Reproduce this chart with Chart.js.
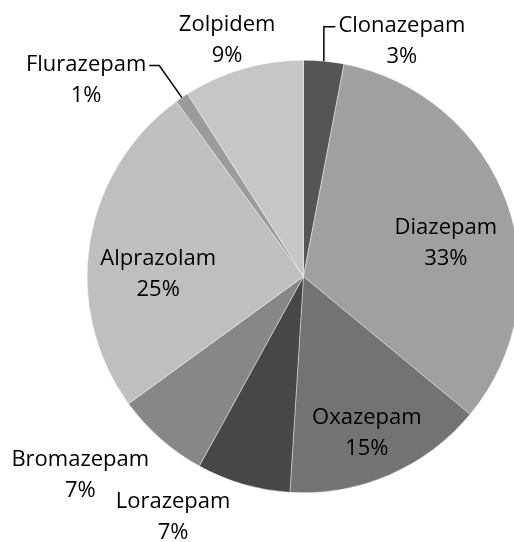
<!DOCTYPE html>
<html>
<head>
<meta charset="utf-8">
<script src="https://cdn.jsdelivr.net/npm/chart.js@4.4.1/dist/chart.umd.min.js"></script>
<style>
  html, body { margin: 0; padding: 0; background: #fff; overflow: hidden; }
  #wrap { width: 540px; height: 542px; }
</style>
</head>
<body>
<div id="wrap"><canvas id="chart-pie" width="540" height="542"></canvas></div>
<script>
// data
const drugs = ["Clonazepam", "Diazepam", "Oxazepam", "Lorazepam", "Bromazepam", "Alprazolam", "Flurazepam", "Zolpidem"];
const shares = [3, 33, 15, 7, 7, 25, 1, 9];
const greys = ["#555555", "#a0a0a0", "#737373", "#474747", "#878787", "#bfbfbf", "#9b9b9b", "#c6c6c6"];

// где стоят подписи: смещение от центра в долях радиуса, leader = выноска
const labelLayout = [
  { fx: 0.455, fy: -1.088, leader: "left" },
  { fx: 0.658, fy: -0.152 },
  { fx: 0.293, fy: 0.723 },
  { fx: -0.603, fy: 1.115 },
  { fx: -1.032, fy: 0.921 },
  { fx: -0.672, fy: -0.012 },
  { fx: -1.005, fy: -0.908, leader: "right" },
  { fx: -0.353, fy: -1.09 },
];

const FONT = '22px "Open Sans", sans-serif';
const LINE_GAP = 31;

const pieLabels = {
  id: "pieLabels",
  afterDatasetsDraw(chart) {
    const { ctx } = chart;
    const arcs = chart.getDatasetMeta(0).data;
    const total = shares.reduce((a, b) => a + b, 0);
    ctx.save();
    ctx.font = FONT;
    ctx.fillStyle = "#000";
    ctx.textAlign = "center";
    ctx.textBaseline = "middle";
    arcs.forEach((arc, i) => {
      const { x, y, outerRadius, startAngle, endAngle } = arc.getProps(["x", "y", "outerRadius", "startAngle", "endAngle"], true);
      const lay = labelLayout[i];
      const cx = x + lay.fx * outerRadius;
      const cy = y + lay.fy * outerRadius;
      const name = drugs[i];
      const pct = Math.round((shares[i] / total) * 100) + "%";
      const nameY = cy - LINE_GAP / 2;
      ctx.fillText(name, cx, nameY);
      ctx.fillText(pct, cx, cy + LINE_GAP / 2);

      if (lay.leader) {
        // выноска от середины дуги к подписи
        const mid = (startAngle + endAngle) / 2;
        const px = x + Math.cos(mid) * outerRadius;
        const py = y + Math.sin(mid) * outerRadius;
        const half = ctx.measureText(name).width / 2;
        const ex = lay.leader === "left" ? cx - half - 3 : cx + half + 3;
        const kx = lay.leader === "left" ? ex - 13 : ex + 10;
        ctx.beginPath();
        ctx.moveTo(px, py);
        ctx.lineTo(lay.leader === "left" ? px : kx, nameY + 1);
        ctx.lineTo(ex, nameY + 1);
        ctx.lineWidth = 1.5;
        ctx.strokeStyle = "#000";
        ctx.stroke();
      }
    });
    ctx.restore();
  },
};

new Chart(document.getElementById("chart-pie"), {
  type: "pie",
  data: {
    labels: drugs,
    datasets: [
      {
        data: shares,
        backgroundColor: greys,
        borderColor: "#ffffff",
        borderWidth: 0.4,
      },
    ],
  },
  options: {
    responsive: false,
    animation: false,
    layout: {
      padding: { left: 87, top: 60, right: 20, bottom: 49 },
    },
    plugins: {
      legend: { display: false },
      tooltip: { enabled: false },
    },
  },
  plugins: [pieLabels],
});
</script>
</body>
</html>
